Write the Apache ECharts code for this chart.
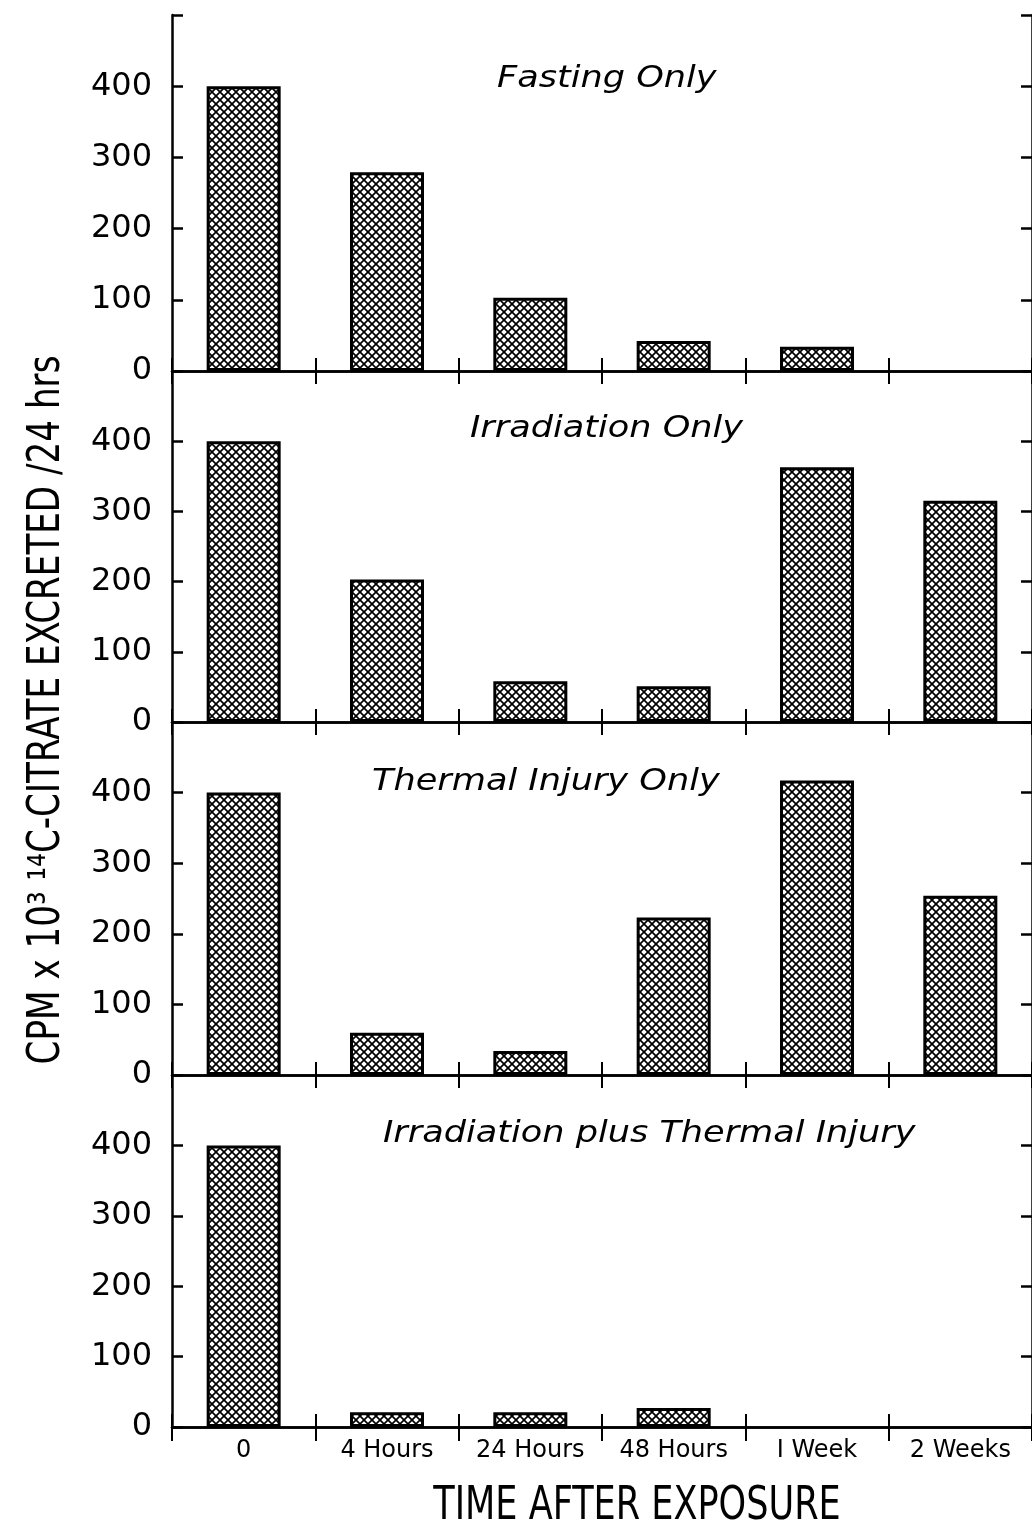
<!DOCTYPE html>
<html>
<head>
<meta charset="utf-8">
<script src="https://cdn.jsdelivr.net/npm/echarts@6/dist/echarts.min.js"></script>
<style>html,body{margin:0;padding:0;background:#fff}#c{width:1032px;height:1530px}</style>
</head>
<body>
<div id="c"></div>
<script>
// ---- data ----
const categories = ['0', '4 Hours', '24 Hours', '48 Hours', 'I Week', '2 Weeks'];
const panelTitles = ['Fasting Only', 'Irradiation Only', 'Thermal Injury Only', 'Irradiation plus Thermal Injury'];
const fastingOnly = [400, 279, 103, 42, 34, null];
const irradiationOnly = [400, 203, 58, 51, 363, 315];
const thermalInjuryOnly = [400, 60, 34, 223, 417, 254];
const irradiationPlusThermal = [400, 21, 21, 27, null, null];
const yTickLabels = ['0', '100', '200', '300', '400'];
const yAxisTitle = 'CPM x 10³ ¹⁴C-CITRATE EXCRETED /24 hrs';
const xAxisTitle = 'TIME AFTER EXPOSURE';

const seriesData = [fastingOnly, irradiationOnly, thermalInjuryOnly, irradiationPlusThermal];

// crosshatch pattern
const pc = document.createElement('canvas');
pc.width = 8; pc.height = 8;
const g = pc.getContext('2d');
g.fillStyle = '#fff'; g.fillRect(0, 0, 8, 8);
g.strokeStyle = '#000'; g.lineWidth = 1.7;
g.beginPath();
g.moveTo(-1, -1); g.lineTo(9, 9);
g.moveTo(-1, 9); g.lineTo(9, -1);
g.stroke();

const gridLayout = [
  {top: 15, height: 356},
  {top: 371, height: 351},
  {top: 722, height: 353},
  {top: 1075, height: 352}
];
const titlePos = [
  [497, 79], [470, 429], [372, 782], [383, 1134]
];

const FONT = '"DejaVu Sans", sans-serif';
const grids = [], xAxes = [], yAxes = [], series = [], graphics = [];

gridLayout.forEach((gl, i) => {
  grids.push({left: 172, right: -4, top: gl.top, height: gl.height});
  xAxes.push({
    type: 'category', gridIndex: i, data: categories, position: 'bottom',
    boundaryGap: true,
    axisLine: {show: true, lineStyle: {color: '#000', width: 2.5}},
    axisTick: {show: true, inside: true, length: 13, lineStyle: {color: '#000', width: 2}},
    axisLabel: {show: i === 3, color: '#000', fontSize: 24, fontFamily: FONT, margin: 12},
    splitLine: {show: false}
  });
  xAxes.push({
    type: 'category', gridIndex: i, data: categories, position: 'top',
    boundaryGap: true,
    axisLine: {show: true, lineStyle: {color: '#000', width: 2.5}},
    axisTick: {show: true, inside: true, length: 13, lineStyle: {color: '#000', width: 2}},
    axisLabel: {show: false},
    splitLine: {show: false}
  });
  if (i === 3) {
    xAxes.push({
      type: 'category', gridIndex: i, data: categories, position: 'bottom',
      boundaryGap: true,
      axisLine: {show: false},
      axisTick: {show: true, inside: false, length: 14, lineStyle: {color: '#000', width: 2}},
      axisLabel: {show: false},
      splitLine: {show: false}
    });
  }
  yAxes.push({
    type: 'value', gridIndex: i, min: 0, max: 500, interval: 100, position: 'left',
    axisLine: {show: true, lineStyle: {color: '#000', width: 2.5}},
    axisTick: {show: true, inside: true, length: 11, lineStyle: {color: '#000', width: 2.5}},
    axisLabel: {
      color: '#000', fontSize: 32, fontFamily: FONT, margin: 20,
      formatter: v => { const k = yTickLabels.indexOf(String(v)); return k >= 0 ? yTickLabels[k] : ''; }
    },
    splitLine: {show: false}
  });
  yAxes.push({
    type: 'value', gridIndex: i, min: 0, max: 500, interval: 100, position: 'right',
    axisLine: {show: true, lineStyle: {color: '#000', width: 2.5}},
    axisTick: {show: true, inside: true, length: 11, lineStyle: {color: '#000', width: 2.5}},
    axisLabel: {show: false},
    splitLine: {show: false}
  });
  series.push({
    type: 'bar', name: panelTitles[i],
    xAxisIndex: i === 3 ? 6 : i * 2, yAxisIndex: i * 2,
    data: seriesData[i], barWidth: 74,
    itemStyle: {color: {image: pc, repeat: 'repeat'}, borderColor: '#000', borderWidth: 3},
    silent: true, animation: false
  });
  graphics.push({
    type: 'text', x: titlePos[i][0], y: titlePos[i][1], scaleX: 1.17,
    style: {text: panelTitles[i], font: 'italic 30px "DejaVu Sans", sans-serif', fill: '#000',
      align: 'left', verticalAlign: 'middle'}
  });
});

graphics.push({
  type: 'text', x: 48, y: 710, rotation: Math.PI / 2, scaleY: 1.15,
  style: {text: yAxisTitle, font: '38px "DejaVu Sans Condensed", "Liberation Sans Narrow", "DejaVu Sans", sans-serif',
    fill: '#000', align: 'center', verticalAlign: 'middle'}
});
graphics.push({
  type: 'text', x: 637, y: 1507, scaleY: 1.2,
  style: {text: xAxisTitle, font: '39px "DejaVu Sans Condensed", "Liberation Sans Narrow", "DejaVu Sans", sans-serif',
    fill: '#000', align: 'center', verticalAlign: 'middle'}
});

const chart = echarts.init(document.getElementById('c'), null, {renderer: 'canvas'});
chart.setOption({
  animation: false,
  backgroundColor: '#fff',
  grid: grids, xAxis: xAxes, yAxis: yAxes, series: series, graphic: graphics
});
</script>
</body>
</html>
